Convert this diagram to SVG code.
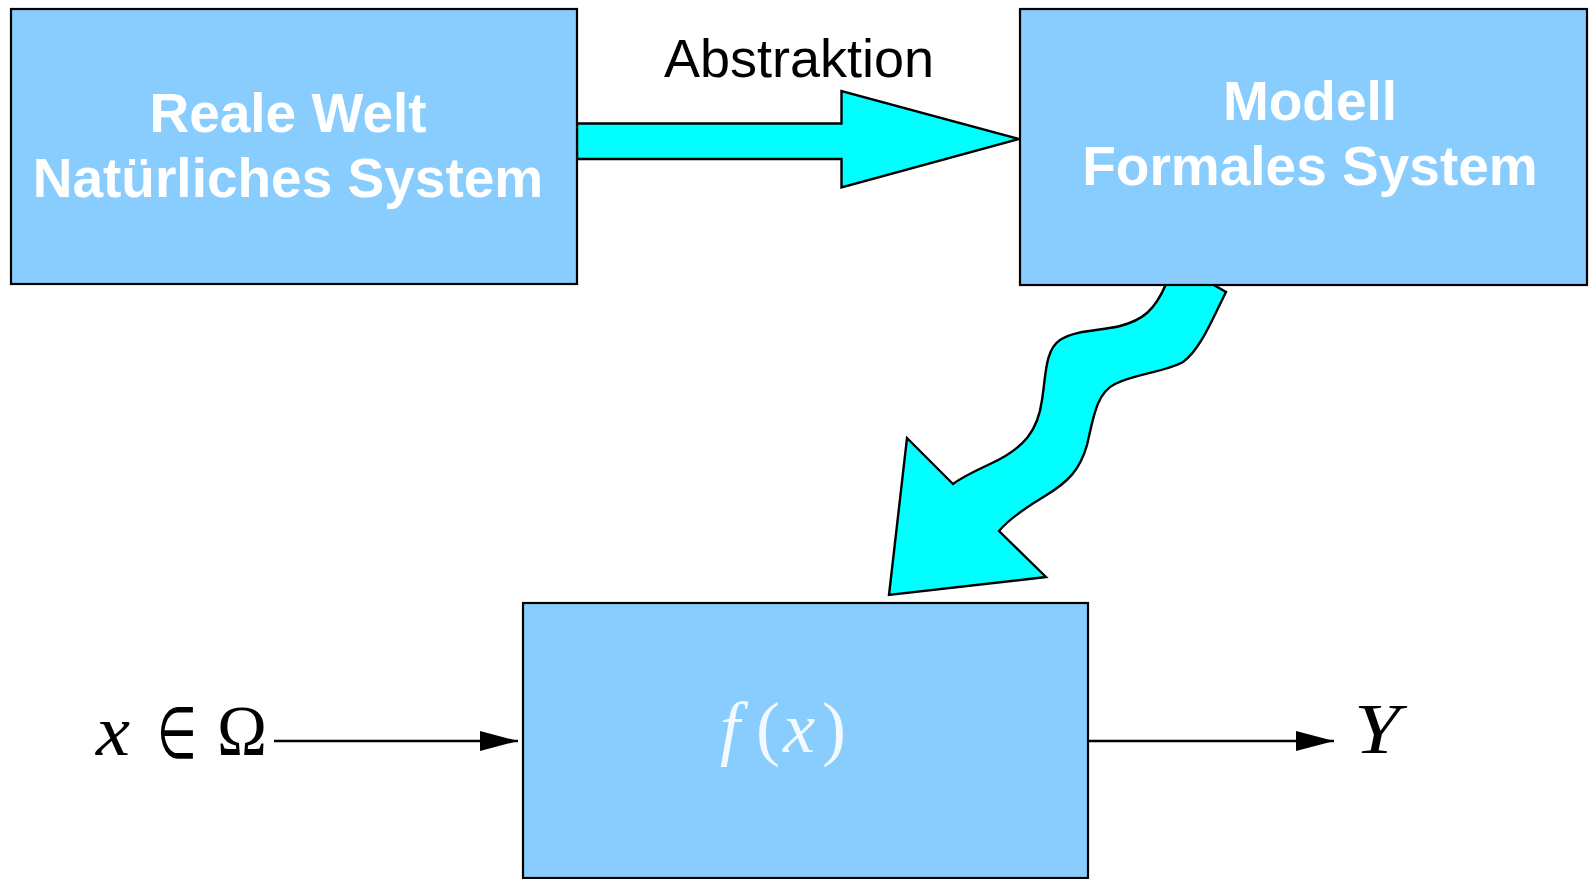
<svg xmlns="http://www.w3.org/2000/svg" width="1592" height="879" viewBox="0 0 1592 879">
<style>
.box{fill:#88cdfd;stroke:#000;stroke-width:2.2}
.big{fill:#00ffff;stroke:#000;stroke-width:2.4;stroke-linejoin:miter}
.lbl{font-family:"Liberation Sans",Arial,sans-serif;font-weight:bold;font-size:55px;fill:#fff;text-anchor:middle}
.abs{font-family:"Liberation Sans",Arial,sans-serif;font-size:54px;fill:#000;text-anchor:middle}
.math{font-family:"Liberation Serif","Times New Roman",serif;font-size:72px}
.thin{stroke:#000;stroke-width:2.4;fill:none}
</style>
<defs>
<marker id="ah" markerUnits="userSpaceOnUse" markerWidth="40" markerHeight="22" refX="38" refY="10" orient="auto">
<path d="M0,0 L38,10 L0,20 Z" fill="#000"/>
</marker>
</defs>
<g id="connectors">
<path id="abstraktion-arrow" class="big" d="M577 123.5 L841.5 123.5 L841.5 91 L1019 139 L841.5 187.5 L841.5 159 L577 159 Z"/>
<path id="wavy-arrow" class="big" d="M1166 284 C1155 310 1143 320 1120 326 C1100 331 1075 330 1060 340 C1045 350 1046 375 1042 400 C1038 430 1025 448 990 464 C975 471 962 477 953 484 L907 438 L889 595 L1046 577 L999 531 C1010 518 1025 508 1045 496 C1068 482 1080 470 1087 445 C1093 420 1096 393 1115 384 C1135 374 1165 372 1183 362 C1200 350 1212 320 1226 292 L1212 284 Z"/>
<line class="thin" x1="274" y1="741" x2="518" y2="741" marker-end="url(#ah)"/>
<line class="thin" x1="1088" y1="741" x2="1334" y2="741" marker-end="url(#ah)"/>
<text class="abs" x="799" y="77">Abstraktion</text>
</g>
<g id="node-real">
<rect class="box" x="11" y="9" width="566" height="275"/>
<text class="lbl" x="288" y="132">Reale Welt</text>
<text class="lbl" x="288" y="197">Natürliches System</text>
</g>
<g id="node-model">
<rect class="box" x="1020" y="9" width="567" height="276"/>
<text class="lbl" x="1310" y="120">Modell</text>
<text class="lbl" x="1310" y="185">Formales System</text>
</g>
<g id="node-f">
<rect class="box" x="523" y="603" width="565" height="275"/>
<text class="math" y="752" fill="#f4f9ff"><tspan x="720" font-style="italic">f</tspan><tspan x="756">(</tspan><tspan x="783" font-style="italic">x</tspan><tspan x="822">)</tspan></text>
</g>
<g id="input">
<text class="math" x="96" y="755" font-style="italic" fill="#000" textLength="34" lengthAdjust="spacingAndGlyphs">x</text>
<text class="math" x="157" y="758" fill="#000" font-size="76" textLength="40" lengthAdjust="spacingAndGlyphs">∈</text>
<text class="math" x="217" y="755" fill="#000" font-size="72" textLength="50" lengthAdjust="spacingAndGlyphs">Ω</text>
</g>
<g id="output">
<text class="math" x="1354" y="753" font-style="italic" fill="#000" textLength="46" lengthAdjust="spacingAndGlyphs">Y</text>
</g>
</svg>
